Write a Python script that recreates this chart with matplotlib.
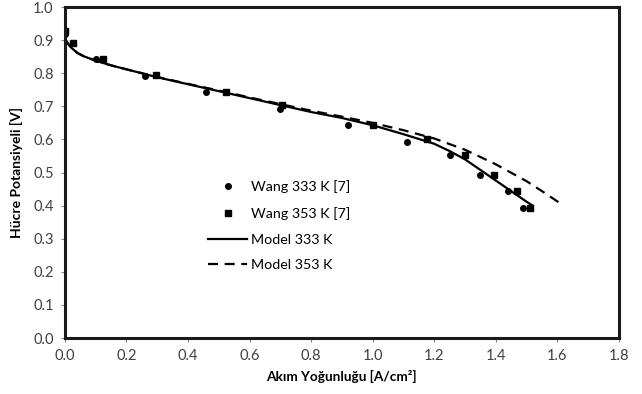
import matplotlib as mpl
import matplotlib.pyplot as plt

mpl.use('Agg')

# Wang experimental data
wang333_x = [0.0, 0.10, 0.26, 0.46, 0.70, 0.92, 1.11, 1.25, 1.35, 1.44, 1.49]
wang333_y = [0.92, 0.842, 0.792, 0.742, 0.692, 0.645, 0.593, 0.553, 0.494, 0.443, 0.393]
wang353_x = [0.0, 0.025, 0.125, 0.295, 0.525, 0.705, 1.0, 1.175, 1.30, 1.395, 1.47, 1.51]
wang353_y = [0.928, 0.89, 0.842, 0.794, 0.744, 0.703, 0.643, 0.601, 0.553, 0.494, 0.445, 0.394]

# model curves
model333_x = [0.0, 0.01, 0.02, 0.04, 0.06, 0.08, 0.10, 0.15, 0.20, 0.30, 0.40, 0.50, 0.60,
              0.70, 0.80, 0.90, 1.00, 1.10, 1.20, 1.25, 1.30, 1.35, 1.40, 1.45, 1.50, 1.52]
model333_y = [0.905, 0.89, 0.878, 0.862, 0.852, 0.845, 0.838, 0.824, 0.812, 0.788, 0.767, 0.746, 0.725,
              0.704, 0.683, 0.665, 0.643, 0.616, 0.587, 0.565, 0.540, 0.508, 0.476, 0.444, 0.412, 0.40]
model353_x = [0.0, 0.01, 0.02, 0.04, 0.06, 0.08, 0.10, 0.15, 0.20, 0.30, 0.40, 0.50, 0.60,
              0.70, 0.80, 0.90, 1.00, 1.10, 1.20, 1.30, 1.40, 1.50, 1.55, 1.60, 1.62]
model353_y = [0.905, 0.89, 0.878, 0.862, 0.852, 0.845, 0.838, 0.824, 0.812, 0.789, 0.768, 0.748, 0.727,
              0.707, 0.687, 0.669, 0.650, 0.628, 0.603, 0.569, 0.525, 0.474, 0.444, 0.413, 0.40]

plt.rcParams['font.family'] = ['Lato', 'DejaVu Sans']

fig = plt.figure(figsize=(6.42, 3.94), dpi=100)
ax = fig.add_axes([0.101, 0.142, 0.863, 0.840])

ax.plot(wang333_x, wang333_y, 'o', color='black', markersize=4, label='Wang 333 K [7]')
ax.plot(wang353_x, wang353_y, 's', color='black', markersize=4.5, label='Wang 353 K [7]')
ax.plot(model333_x, model333_y, '-', color='black', linewidth=1.6, label='Model 333 K')
ax.plot(model353_x, model353_y, '--', color='black', linewidth=1.6, dashes=(4.5, 3), label='Model 353 K')

ax.set_xlim(0, 1.8)
ax.set_ylim(0, 1.0)
ax.set_xticks([i * 0.2 for i in range(10)])
ax.set_yticks([i * 0.1 for i in range(11)])
ax.xaxis.set_major_formatter(mpl.ticker.FormatStrFormatter('%.1f'))
ax.yaxis.set_major_formatter(mpl.ticker.FormatStrFormatter('%.1f'))
ax.tick_params(direction='out', length=3, width=0.8, color='#888888',
               labelsize=10.5, labelcolor='#404040', pad=5)
for s in ax.spines.values():
    s.set_linewidth(2.2)
    s.set_color('#1a1a1a')

ax.set_xlabel('Akım Yoğunluğu [A/cm²]', fontsize=9.8, fontweight='bold', labelpad=5)
ax.set_ylabel('Hücre Potansiyeli [V]', fontsize=10, fontweight='bold', labelpad=7)

ax.legend(loc='upper left', bbox_to_anchor=(0.236, 0.515), frameon=False, fontsize=10.3,
          labelspacing=0.95, handlelength=2.7, handletextpad=0.3)

fig.savefig('out.png', dpi=100)
